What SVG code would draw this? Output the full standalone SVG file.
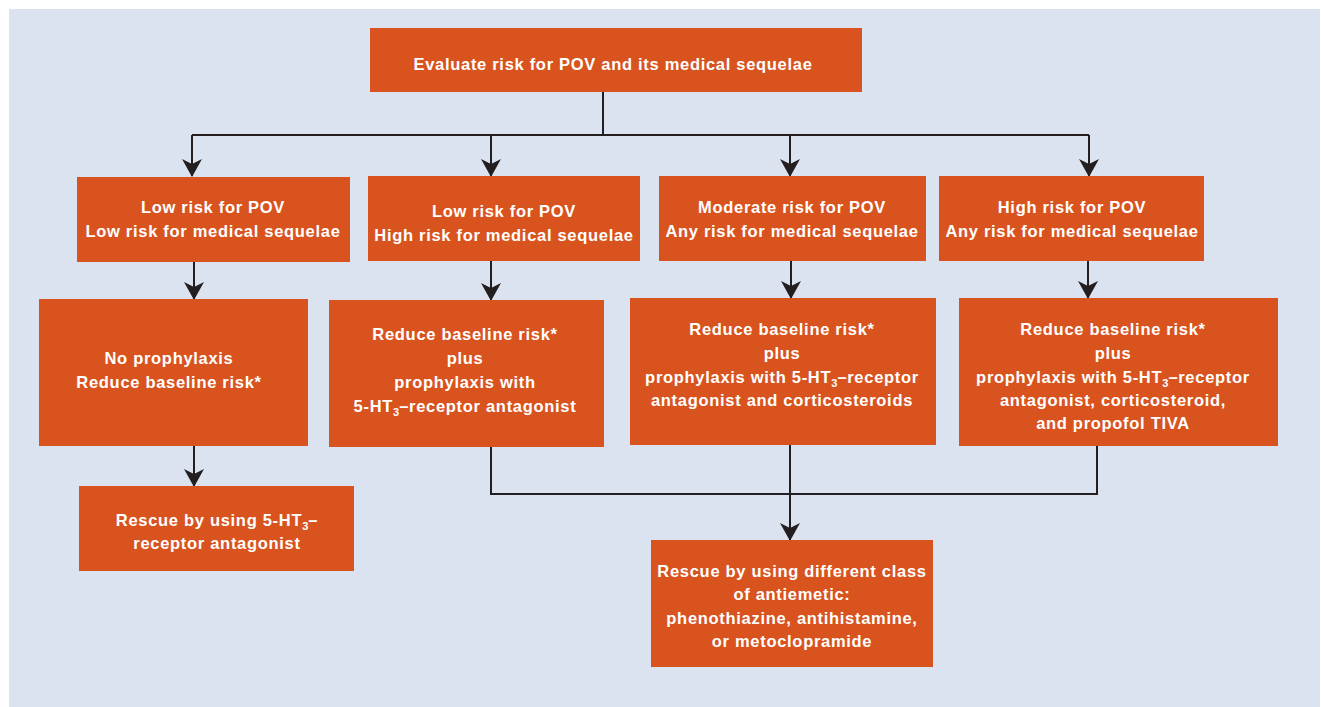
<svg xmlns="http://www.w3.org/2000/svg" width="1321" height="707" viewBox="0 0 1321 707">
<defs>
<style>
.box{fill:#D9531E}
.t{font-family:"Liberation Sans",Arial,Helvetica,sans-serif;font-weight:bold;font-size:16.5px;letter-spacing:0.7px;fill:#FFFFFF;text-anchor:middle}
.sub{font-size:11px;letter-spacing:0}
.ln{fill:none;stroke:#231F20;stroke-width:2}
</style>
<marker id="ah" viewBox="0 0 18 20" refX="17" refY="10" markerWidth="18" markerHeight="20" markerUnits="userSpaceOnUse" orient="auto">
<path d="M0,0 L18,10 L0,20 L5,10 Z" fill="#231F20"/>
</marker>
</defs>
<rect x="0" y="0" width="1321" height="707" fill="#FFFFFF"/>
<rect x="9" y="9" width="1311" height="698" fill="#DCE3F0"/>

<g id="connectors">
<path class="ln" d="M603,92 V135"/>
<path class="ln" d="M192,135 H1089"/>
<path class="ln" d="M192,135 V176" marker-end="url(#ah)"/>
<path class="ln" d="M491,135 V176" marker-end="url(#ah)"/>
<path class="ln" d="M790,135 V176" marker-end="url(#ah)"/>
<path class="ln" d="M1089,135 V176" marker-end="url(#ah)"/>
<path class="ln" d="M194,262 V299" marker-end="url(#ah)"/>
<path class="ln" d="M491,261 V300" marker-end="url(#ah)"/>
<path class="ln" d="M791,261 V298" marker-end="url(#ah)"/>
<path class="ln" d="M1088,261 V298" marker-end="url(#ah)"/>
<path class="ln" d="M194,446 V486" marker-end="url(#ah)"/>
<path class="ln" d="M491,447 V494 H1097 V446"/>
<path class="ln" d="M790,445 V540" marker-end="url(#ah)"/>
</g>

<g id="n-evaluate">
<rect class="box" x="370" y="28" width="492" height="64"/>
<text class="t" x="613" y="70">Evaluate risk for POV and its medical sequelae</text>
</g>

<g id="n-low-low">
<rect class="box" x="77" y="177" width="273" height="85"/>
<text class="t" x="213" y="213">Low risk for POV</text>
<text class="t" x="213" y="237">Low risk for medical sequelae</text>
</g>

<g id="n-low-high">
<rect class="box" x="368" y="176" width="272" height="85"/>
<text class="t" x="504" y="217">Low risk for POV</text>
<text class="t" x="504" y="241">High risk for medical sequelae</text>
</g>

<g id="n-moderate">
<rect class="box" x="659" y="176" width="267" height="85"/>
<text class="t" x="792" y="213">Moderate risk for POV</text>
<text class="t" x="792" y="237">Any risk for medical sequelae</text>
</g>

<g id="n-high">
<rect class="box" x="939" y="176" width="265" height="85"/>
<text class="t" x="1072" y="213">High risk for POV</text>
<text class="t" x="1072" y="237">Any risk for medical sequelae</text>
</g>

<g id="n-noproph">
<rect class="box" x="39" y="299" width="269" height="147"/>
<text class="t" x="169" y="364">No prophylaxis</text>
<text class="t" x="169" y="388">Reduce baseline risk*</text>
</g>

<g id="n-proph1">
<rect class="box" x="329" y="300" width="275" height="147"/>
<text class="t" x="465" y="340">Reduce baseline risk*</text>
<text class="t" x="465" y="364">plus</text>
<text class="t" x="465" y="388">prophylaxis with</text>
<text class="t" x="465" y="412">5-HT<tspan class="sub" dy="4">3</tspan><tspan dy="-4">–receptor antagonist</tspan></text>
</g>

<g id="n-proph2">
<rect class="box" x="630" y="298" width="306" height="147"/>
<text class="t" x="782" y="335">Reduce baseline risk*</text>
<text class="t" x="782" y="359">plus</text>
<text class="t" x="782" y="383">prophylaxis with 5-HT<tspan class="sub" dy="4">3</tspan><tspan dy="-4">–receptor</tspan></text>
<text class="t" x="782" y="406">antagonist and corticosteroids</text>
</g>

<g id="n-proph3">
<rect class="box" x="959" y="298" width="319" height="148"/>
<text class="t" x="1113" y="335">Reduce baseline risk*</text>
<text class="t" x="1113" y="359">plus</text>
<text class="t" x="1113" y="383">prophylaxis with 5-HT<tspan class="sub" dy="4">3</tspan><tspan dy="-4">–receptor</tspan></text>
<text class="t" x="1113" y="406">antagonist, corticosteroid,</text>
<text class="t" x="1113" y="429">and propofol TIVA</text>
</g>

<g id="n-rescue1">
<rect class="box" x="79" y="486" width="275" height="85"/>
<text class="t" x="217" y="526">Rescue by using 5-HT<tspan class="sub" dy="4">3</tspan><tspan dy="-4">–</tspan></text>
<text class="t" x="217" y="549">receptor antagonist</text>
</g>

<g id="n-rescue2">
<rect class="box" x="651" y="540" width="282" height="127"/>
<text class="t" x="792" y="577">Rescue by using different class</text>
<text class="t" x="792" y="600">of antiemetic:</text>
<text class="t" x="792" y="624">phenothiazine, antihistamine,</text>
<text class="t" x="792" y="647">or metoclopramide</text>
</g>
</svg>
